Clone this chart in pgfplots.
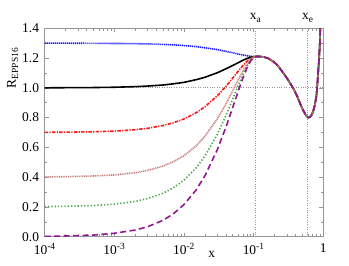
\documentclass[border=0pt]{standalone}
\usepackage{fontspec}
\setmainfont{Liberation Serif}
\usepackage{pgfplots}
\pgfplotsset{compat=1.18}
\definecolor{cblue}{RGB}{20,20,255}
\definecolor{cred}{RGB}{255,20,20}
\definecolor{cbrown}{RGB}{200,125,125}
\definecolor{cgreen}{RGB}{70,165,70}
\definecolor{cpurple}{RGB}{145,20,145}
\definecolor{caxis}{RGB}{150,150,150}
\begin{document}
\fontsize{13.5}{16}\selectfont
\begin{tikzpicture}
\begin{axis}[
  scale only axis, width=278.6bp, height=208.4bp,
  xmode=log, xmin=1e-4, xmax=1, ymin=0, ymax=1.4,
  xtick={1e-4,1e-3,1e-2,1e-1,1},
  xticklabels={10\textsuperscript{-4},10\textsuperscript{-3},10\textsuperscript{-2},10\textsuperscript{-1},1},
  ytick={0,0.2,0.4,0.6,0.8,1.0,1.2,1.4},
  yticklabels={0.0,0.2,0.4,0.6,0.8,1.0,1.2,1.4},
  minor y tick num=1,
  tick align=inside, tick pos=both,
  major tick length=4bp, minor tick length=2.5bp,
  every tick/.style={caxis, line width=0.6pt},
  axis line style={caxis, line width=0.9pt},
  xticklabel style={yshift=-2bp},
  yticklabel style={xshift=-1bp},
  extra x ticks={0.107,0.6}, extra x tick labels={},
  extra x tick style={grid=major, major tick length=0pt, major grid style={caxis, dotted, line width=0.7pt}},
  extra y ticks={1.0}, extra y tick labels={},
  extra y tick style={grid=major, major tick length=0pt, major grid style={caxis, dotted, line width=0.7pt}},
  xlabel={x}, xlabel style={at={(axis description cs:0.60,-0.083)}, anchor=center},
  ylabel={R\textsubscript{EPPS16}}, ylabel style={at={(axis description cs:-0.115,0.81)}, anchor=center},
  clip mode=individual,
  every axis plot/.append style={line width=1.6pt},
]
% blue
\addplot[cblue, dash pattern=on 1.2pt off 0.8pt] coordinates {
(1e-4,1.300)(2e-4,1.300)(5e-4,1.299)(1e-3,1.298)(2e-3,1.297)(3e-3,1.295)(5e-3,1.292)(7e-3,1.289)(0.01,1.284)(0.015,1.277)(0.02,1.269)(0.03,1.257)(0.04,1.245)(0.05,1.236)(0.06,1.227)(0.07,1.221)(0.08,1.216)(0.09,1.212)(0.1,1.210)(0.107,1.210)
(0.12,1.211)(0.14,1.207)(0.16,1.199)(0.19,1.178)(0.22,1.152)(0.266,1.100)(0.30,1.066)(0.34,1.025)(0.37,0.997)(0.42,0.945)(0.462,0.898)(0.50,0.860)(0.55,0.824)(0.58,0.808)(0.61,0.800)(0.64,0.803)(0.684,0.820)(0.72,0.846)(0.76,0.888)(0.80,0.955)(0.82,1.019)(0.84,1.090)(0.86,1.160)(0.87,1.198)(0.88,1.240)(0.89,1.290)(0.90,1.360)(0.91,1.430)(0.92,1.520)};
% black
\addplot[black, solid] coordinates {
(1e-4,1.000)(2e-4,1.001)(5e-4,1.002)(1e-3,1.004)(2e-3,1.008)(3e-3,1.012)(5e-3,1.019)(7e-3,1.027)(0.01,1.037)(0.015,1.055)(0.02,1.071)(0.03,1.101)(0.04,1.128)(0.05,1.150)(0.06,1.169)(0.07,1.185)(0.08,1.197)(0.09,1.205)(0.1,1.209)(0.107,1.210)
(0.12,1.211)(0.14,1.207)(0.16,1.199)(0.19,1.178)(0.22,1.152)(0.266,1.100)(0.30,1.066)(0.34,1.025)(0.37,0.997)(0.42,0.945)(0.462,0.898)(0.50,0.860)(0.55,0.824)(0.58,0.808)(0.61,0.800)(0.64,0.803)(0.684,0.820)(0.72,0.846)(0.76,0.888)(0.80,0.955)(0.82,1.019)(0.84,1.090)(0.86,1.160)(0.87,1.198)(0.88,1.240)(0.89,1.290)(0.90,1.360)(0.91,1.430)(0.92,1.520)};
% red
\addplot[cred, dash pattern=on 3.5pt off 1.3pt on 1.2pt off 1.3pt] coordinates {
(1e-4,0.701)(2e-4,0.702)(5e-4,0.705)(1e-3,0.709)(2e-3,0.719)(3e-3,0.728)(5e-3,0.747)(7e-3,0.765)(0.01,0.791)(0.015,0.833)(0.02,0.873)(0.03,0.946)(0.04,1.010)(0.05,1.065)(0.06,1.112)(0.07,1.149)(0.08,1.178)(0.09,1.197)(0.1,1.208)(0.107,1.210)
(0.12,1.211)(0.14,1.207)(0.16,1.199)(0.19,1.178)(0.22,1.152)(0.266,1.100)(0.30,1.066)(0.34,1.025)(0.37,0.997)(0.42,0.945)(0.462,0.898)(0.50,0.860)(0.55,0.824)(0.58,0.808)(0.61,0.800)(0.64,0.803)(0.684,0.820)(0.72,0.846)(0.76,0.888)(0.80,0.955)(0.82,1.019)(0.84,1.090)(0.86,1.160)(0.87,1.198)(0.88,1.240)(0.89,1.290)(0.90,1.360)(0.91,1.430)(0.92,1.520)};
% brown
\addplot[cbrown, dash pattern=on 1pt off 0.8pt] coordinates {
(1e-4,0.402)(2e-4,0.403)(5e-4,0.408)(1e-3,0.415)(2e-3,0.430)(3e-3,0.445)(5e-3,0.474)(7e-3,0.503)(0.01,0.544)(0.015,0.611)(0.02,0.675)(0.03,0.791)(0.04,0.892)(0.05,0.980)(0.06,1.054)(0.07,1.113)(0.08,1.158)(0.09,1.190)(0.1,1.207)(0.107,1.210)
(0.12,1.211)(0.14,1.207)(0.16,1.199)(0.19,1.178)(0.22,1.152)(0.266,1.100)(0.30,1.066)(0.34,1.025)(0.37,0.997)(0.42,0.945)(0.462,0.898)(0.50,0.860)(0.55,0.824)(0.58,0.808)(0.61,0.800)(0.64,0.803)(0.684,0.820)(0.72,0.846)(0.76,0.888)(0.80,0.955)(0.82,1.019)(0.84,1.090)(0.86,1.160)(0.87,1.198)(0.88,1.240)(0.89,1.290)(0.90,1.360)(0.91,1.430)(0.92,1.520)};
% green
\addplot[cgreen, dash pattern=on 1.3pt off 2pt] coordinates {
(1e-4,0.202)(2e-4,0.204)(5e-4,0.209)(1e-3,0.219)(2e-3,0.237)(3e-3,0.256)(5e-3,0.292)(7e-3,0.328)(0.01,0.380)(0.015,0.463)(0.02,0.542)(0.03,0.687)(0.04,0.814)(0.05,0.923)(0.06,1.015)(0.07,1.089)(0.08,1.146)(0.09,1.185)(0.1,1.206)(0.107,1.210)
(0.12,1.211)(0.14,1.207)(0.16,1.199)(0.19,1.178)(0.22,1.152)(0.266,1.100)(0.30,1.066)(0.34,1.025)(0.37,0.997)(0.42,0.945)(0.462,0.898)(0.50,0.860)(0.55,0.824)(0.58,0.808)(0.61,0.800)(0.64,0.803)(0.684,0.820)(0.72,0.846)(0.76,0.888)(0.80,0.955)(0.82,1.019)(0.84,1.090)(0.86,1.160)(0.87,1.198)(0.88,1.240)(0.89,1.290)(0.90,1.360)(0.91,1.430)(0.92,1.520)};
% purple
\addplot[cpurple, dash pattern=on 6pt off 3.5pt] coordinates {
(1e-4,0.002)(2e-4,0.005)(5e-4,0.011)(1e-3,0.023)(2e-3,0.045)(3e-3,0.067)(5e-3,0.110)(7e-3,0.153)(0.01,0.216)(0.015,0.315)(0.02,0.410)(0.03,0.583)(0.04,0.736)(0.05,0.867)(0.06,0.977)(0.07,1.065)(0.08,1.133)(0.09,1.179)(0.1,1.205)(0.107,1.210)
(0.12,1.211)(0.14,1.207)(0.16,1.199)(0.19,1.178)(0.22,1.152)(0.266,1.100)(0.30,1.066)(0.34,1.025)(0.37,0.997)(0.42,0.945)(0.462,0.898)(0.50,0.860)(0.55,0.824)(0.58,0.808)(0.61,0.800)(0.64,0.803)(0.684,0.820)(0.72,0.846)(0.76,0.888)(0.80,0.955)(0.82,1.019)(0.84,1.090)(0.86,1.160)(0.87,1.198)(0.88,1.240)(0.89,1.290)(0.90,1.360)(0.91,1.430)(0.92,1.520)};
\node[anchor=south, inner sep=0pt] at ([yshift=6bp]axis cs:0.107,1.4) {x\textsubscript{a}};
\node[anchor=south, inner sep=0pt] at ([yshift=6bp]axis cs:0.6,1.4) {x\textsubscript{e}};
\end{axis}
\path ([xshift=-44.7bp,yshift=-29.3bp]current axis.south west) rectangle ([xshift=25.7bp,yshift=28.3bp]current axis.north east);
\end{tikzpicture}
\end{document}
